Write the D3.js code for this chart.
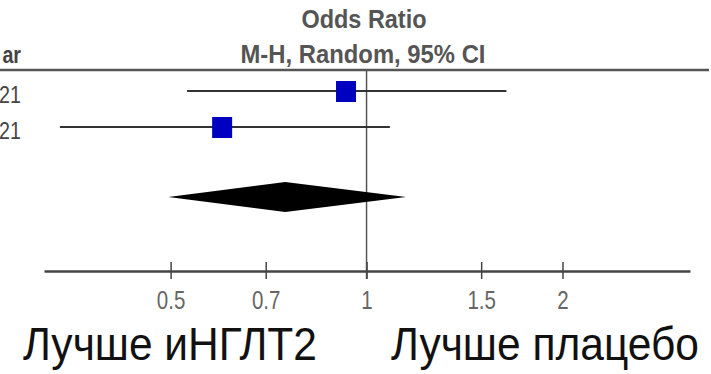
<!DOCTYPE html>
<html>
<head>
<meta charset="utf-8">
<script src="https://cdn.jsdelivr.net/npm/d3@7"></script>
<style>
  body { margin: 0; background: #fff; }
  text { font-family: "Liberation Sans", Arial, sans-serif; }
</style>
</head>
<body>
<svg width="711" height="374"></svg>
<script>
// study rows (labels cropped in the original, only the year tail shows)
const studyLabels = ['21', '21']
const oddsRatio = [0.93, 0.60]
const ciLow = [0.53, 0.338]
const ciHigh = [1.64, 1.086]

// pooled estimate
const pooled = { or: 0.75, low: 0.496, high: 1.15 }

const tickValues = [0.5, 0.7, 1, 1.5, 2]
const tickLabels = ['0.5', '0.7', '1', '1.5', '2']

const favourLabels = ['Лучше иНГЛТ2', 'Лучше плацебо']

const svg = d3.select('svg')
const width = +svg.attr('width')
const height = +svg.attr('height')

const axisY = 271
const topLineY = 70

const xScale = d3.scaleLog()
  .domain([0.3195, 3.14])
  .range([44, 690])

const yScale = d3.scalePoint()
  .domain(d3.range(studyLabels.length))
  .range([91, 127])

// squeeze text to look like a narrow face
const narrow = (sel, factor = 0.82) => {
  sel.each(function () {
    const w = this.getComputedTextLength()
    d3.select(this)
      .attr('textLength', w * factor)
      .attr('lengthAdjust', 'spacingAndGlyphs')
  })
  return sel
}

// header
svg.append('text')
  .attr('x', 364).attr('y', 28)
  .attr('text-anchor', 'middle')
  .style('font-size', '25px').style('font-weight', 'bold')
  .style('fill', '#555')
  .attr('textLength', 125).attr('lengthAdjust', 'spacingAndGlyphs')
  .text('Odds Ratio')

svg.append('text')
  .attr('x', 363).attr('y', 63)
  .attr('text-anchor', 'middle')
  .style('font-size', '25px').style('font-weight', 'bold')
  .style('fill', '#555')
  .attr('textLength', 245).attr('lengthAdjust', 'spacingAndGlyphs')
  .text('M-H, Random, 95% CI')

svg.append('text')
  .attr('x', 21).attr('y', 63)
  .attr('text-anchor', 'end')
  .style('font-size', '24px').style('font-weight', 'bold')
  .style('fill', '#444')
  .text('ar')
  .call(narrow)

svg.append('line')
  .attr('x1', 0).attr('x2', 709)
  .attr('y1', topLineY).attr('y2', topLineY)
  .style('stroke', '#555').style('stroke-width', 2.5)

// line of no effect
svg.append('line')
  .attr('x1', xScale(1)).attr('x2', xScale(1))
  .attr('y1', topLineY).attr('y2', axisY + 8)
  .style('stroke', '#555').style('stroke-width', 1.5)

// x axis
const xAxis = d3.axisBottom(xScale)
  .tickValues(tickValues)
  .tickFormat((d, i) => tickLabels[i])
  .tickSizeInner(8)
  .tickSizeOuter(0)
  .tickPadding(12)

const xAxisG = svg.append('g')
  .attr('transform', `translate(0, ${axisY})`)
  .call(xAxis)

xAxisG.select('.domain')
  .style('stroke', '#444').style('stroke-width', 2.5)

xAxisG.selectAll('.tick line')
  .attr('y1', -9)
  .style('stroke', '#444').style('stroke-width', 1.5)

xAxisG.selectAll('.tick text')
  .style('font-size', '25px')
  .style('fill', '#666')
  .style('font-family', '"Liberation Sans", Arial, sans-serif')
  .call(narrow)

// study rows
const rows = svg.append('g')
studyLabels.forEach((lab, i) => {
  const y = yScale(i)
  rows.append('text')
    .attr('x', 21).attr('y', y + 12)
    .attr('text-anchor', 'end')
    .style('font-size', '24px').style('fill', '#444')
    .text(lab)
    .call(narrow)
  rows.append('line')
    .attr('x1', xScale(ciLow[i])).attr('x2', xScale(ciHigh[i]))
    .attr('y1', y).attr('y2', y)
    .style('stroke', '#333').style('stroke-width', 2)
  rows.append('rect')
    .attr('x', xScale(oddsRatio[i]) - 10).attr('y', y - 10)
    .attr('width', 20).attr('height', 21)
    .style('fill', '#0000c0')
})

// pooled diamond
const dy = 197
const dh = 15
svg.append('path')
  .attr('d', `M${xScale(pooled.low)},${dy} L${xScale(pooled.or)},${dy - dh} L${xScale(pooled.high)},${dy} L${xScale(pooled.or)},${dy + dh} Z`)
  .style('fill', '#000')

// favours labels, squeezed with a transform so the box stays inside
const favourX = [23, 391]
const favourW = [294, 308]
favourLabels.forEach((lab, i) => {
  const g = svg.append('g')
  const t = g.append('text')
    .attr('x', 0).attr('y', 0)
    .style('font-size', '46px').style('fill', '#111')
    .text(lab)
  const w = t.node().getComputedTextLength()
  g.attr('transform', `translate(${favourX[i]}, 360) scale(${favourW[i] / w}, 1)`)
})
</script>
</body>
</html>
